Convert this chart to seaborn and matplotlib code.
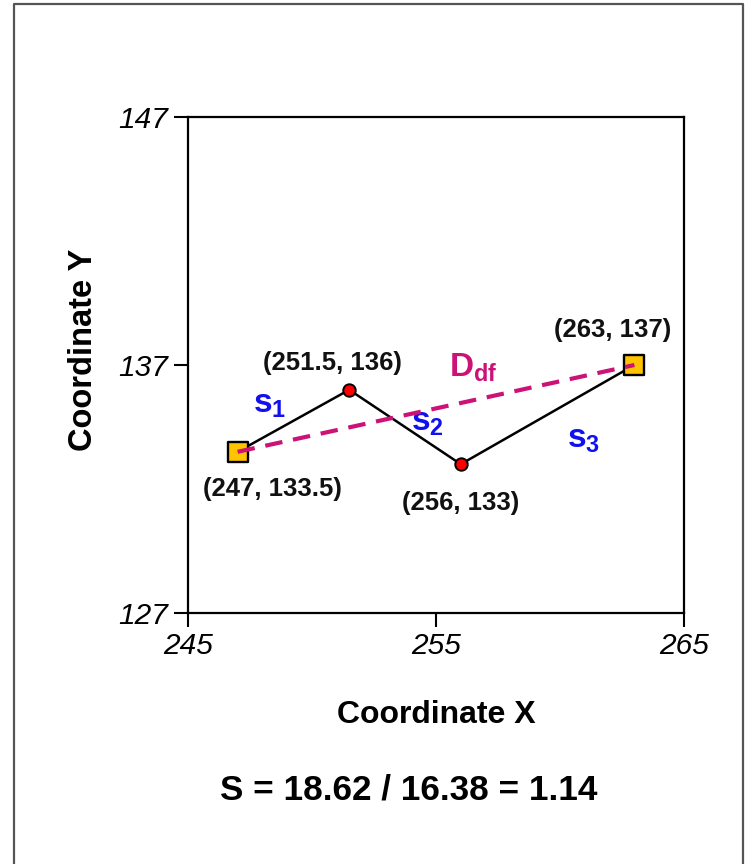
import numpy as np
import pandas as pd
import matplotlib
matplotlib.use("Agg")
import matplotlib.pyplot as plt
from matplotlib.lines import Line2D
import seaborn as sns

# ---- data ----
xs = [247, 251.5, 256, 263]
ys = [133.5, 136, 133, 137]
kinds = ["end", "mid", "mid", "end"]
point_labels = ["(247, 133.5)", "(251.5, 136)", "(256, 133)", "(263, 137)"]
segment_subs = ["1", "2", "3"]
x_ticks = [245, 255, 265]
y_ticks = [127, 137, 147]
ratio_text = "S = 18.62 / 16.38 = 1.14"

df = pd.DataFrame({"x": xs, "y": ys, "kind": kinds, "label": point_labels})

sns.set_theme(style="white")
plt.rcParams["font.family"] = ["Liberation Sans", "DejaVu Sans"]
plt.rcParams["mathtext.fontset"] = "custom"
plt.rcParams["mathtext.bf"] = "Liberation Sans:bold"
plt.rcParams["mathtext.rm"] = "Liberation Sans"

fig = plt.figure(figsize=(7.46, 8.64), dpi=100)
fig.patch.set_facecolor("white")
ax = fig.add_axes([188/746, 1 - 613/864, 496/746, 496/864])
ax.set_facecolor("white")

# polyline
sns.lineplot(data=df, x="x", y="y", sort=False, color="black", linewidth=1.8,
             ax=ax, zorder=2, legend=False)
# end squares
sns.scatterplot(data=df[df.kind == "end"], x="x", y="y", marker="s", s=200,
                color="#FFC400", edgecolor="black", linewidth=1.7, ax=ax,
                zorder=3, legend=False)
# middle circles
sns.scatterplot(data=df[df.kind == "mid"], x="x", y="y", marker="o", s=80,
                color="#FF0000", edgecolor="black", linewidth=1.4, ax=ax,
                zorder=3, legend=False)
# dashed direct line
ends = df.iloc[[0, len(df) - 1]]
sns.lineplot(data=ends, x="x", y="y", sort=False, color="#CC1177",
             linewidth=3, ax=ax, zorder=4, legend=False, dashes=False)
ax.lines[-1].set_dashes((4.2, 2.6))

# point labels (offsets in points)
pt_offsets = [(25, -27), (-12, 19), (0, -28), (-16, 25)]
for (x, y, lab), off in zip(zip(xs, ys, point_labels), pt_offsets):
    ax.annotate(lab, (x, y), xytext=off, textcoords="offset points",
                ha="center", va="center", fontsize=18.5, fontweight="bold",
                color="#111111")

# segment labels
seg_offsets = [(-17, 12), (16, 3), (26, -18)]
for i, (sub, off) in enumerate(zip(segment_subs, seg_offsets)):
    mx = (xs[i] + xs[i + 1]) / 2
    my = (ys[i] + ys[i + 1]) / 2
    ax.annotate(r"$\mathbf{s}_{\mathbf{" + sub + "}}$", (mx, my), xytext=off,
                textcoords="offset points", ha="center", va="center",
                fontsize=24, color="#1010F0")

# D_df label
ax.annotate(r"$\mathbf{D}_{\mathbf{df}}$", ((xs[0] + xs[-1]) / 2, (ys[0] + ys[-1]) / 2),
            xytext=(27, 29), textcoords="offset points", ha="center", va="center",
            fontsize=24, color="#CC1177")

ax.set_xlim(x_ticks[0], x_ticks[-1])
ax.set_ylim(y_ticks[0], y_ticks[-1])
ax.set_xticks(x_ticks)
ax.set_yticks(y_ticks)
ax.set_xticklabels([str(t) for t in x_ticks], fontsize=21.5, fontstyle="italic")
ax.set_yticklabels([str(t) for t in y_ticks], fontsize=21.5, fontstyle="italic")
ax.tick_params(direction="out", length=10, width=1.5, color="black",
               bottom=True, left=True, pad=4, labelcolor="black")
for sp in ax.spines.values():
    sp.set_visible(True)
    sp.set_color("black")
    sp.set_linewidth(1.6)

ax.set_xlabel("Coordinate X", fontsize=23, fontweight="bold", color="black")
ax.set_ylabel("Coordinate Y", fontsize=23.5, fontweight="bold", color="black")
ax.xaxis.set_label_coords(0.5, -0.206)
ax.xaxis.label.set_va("center")
ax.yaxis.set_label_coords(-0.21, 0.53)
ax.yaxis.label.set_va("center")

fig.text(409/746, 1 - 790/864, ratio_text, ha="center", va="center",
         fontsize=25.3, fontweight="bold", color="black")

# outer frame (top, left, right)
fx0, fx1, fy = 14/746, 743/746, 1 - 4/864
fig.add_artist(Line2D([fx0, fx0, fx1, fx1], [0, fy, fy, 0], transform=fig.transFigure,
                      color="#555555", linewidth=1.6))

fig.savefig("out.png", dpi=100)
